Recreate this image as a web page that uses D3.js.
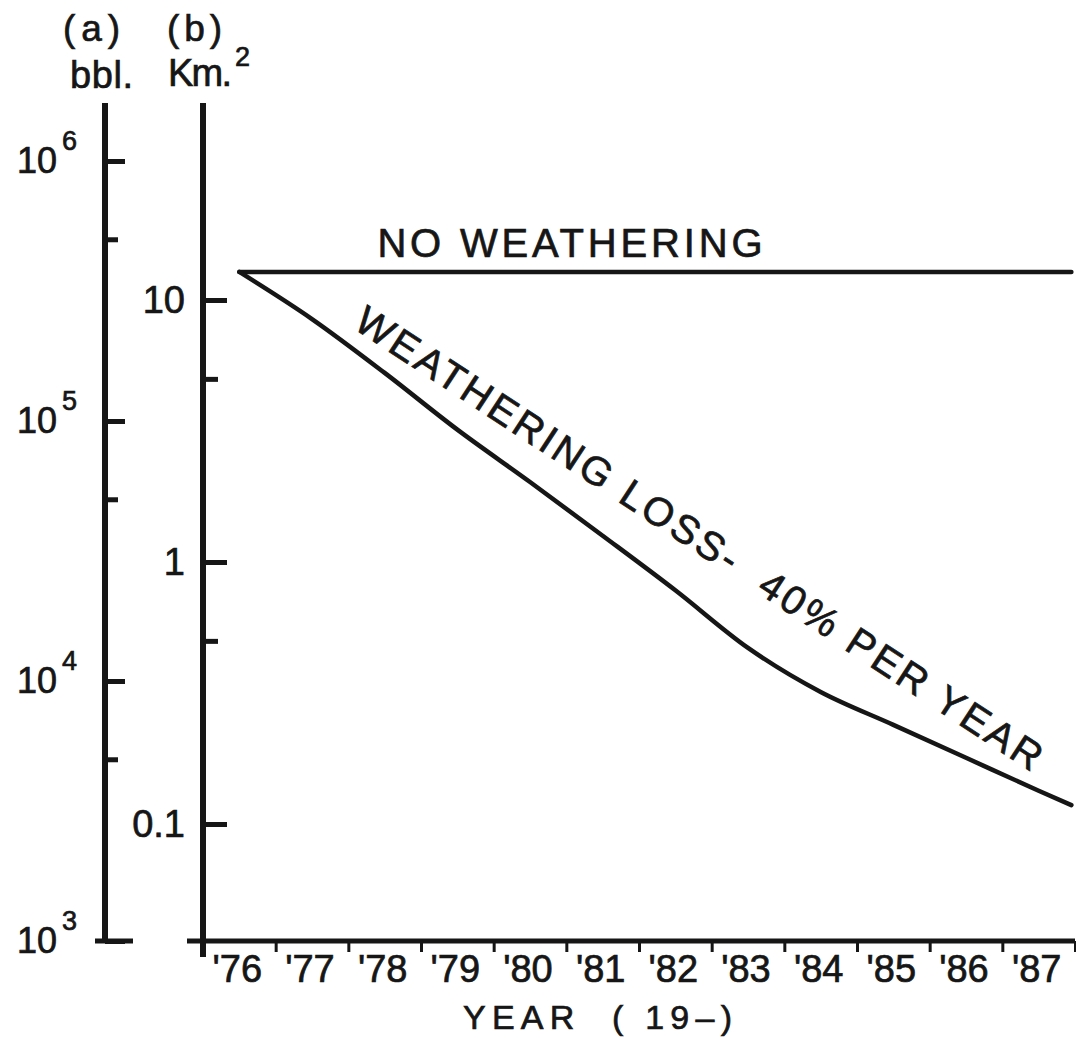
<!DOCTYPE html>
<html>
<head>
<meta charset="utf-8">
<script src="https://cdn.jsdelivr.net/npm/d3@7"></script>
<style>
  html, body { margin: 0; padding: 0; background: #fff; }
  svg { display: block; }
  text { font-family: "Liberation Sans", Arial, sans-serif; fill: #161616; stroke: #161616; stroke-width: 0.7px; }
</style>
</head>
<body>
<svg id="chart" width="1076" height="1038"></svg>
<script>
// ---------------- DATA ----------------
const years = [1976, 1977, 1978, 1979, 1980, 1981, 1982, 1983, 1984, 1985, 1986, 1987];
const yearLabels = ["'76", "'77", "'78", "'79", "'80", "'81", "'82", "'83", "'84", "'85", "'86", "'87"];
const yearBoundaries = [1976.5, 1977.5, 1978.5, 1979.5, 1980.5, 1981.5, 1982.5, 1983.5, 1984.5, 1985.5, 1986.5, 1987.5];

const noWeatheringYears = [1976, 1987.45];
const noWeatheringKm = [12.8, 12.8];

const weatheringYears = [1976, 1977, 1978, 1979, 1980, 1981, 1982, 1983, 1984, 1985, 1986, 1987, 1987.45];
const weatheringKm = [12.8, 8.46, 5.27, 3.2, 2.02, 1.26, 0.78, 0.47, 0.319, 0.239, 0.179, 0.134, 0.118];

const bblTicks = [1e3, 1e4, 1e5, 1e6];
const bblExponents = ["3", "4", "5", "6"];
const bblMinorTicks = [5e3, 5e4, 5e5];

const kmTicks = [0.1, 1, 10];
const kmTickLabels = ["0.1", "1", "10"];
const kmMinorTicks = [0.5, 5];

const noWeatheringLabel = "NO WEATHERING";
const noWeatheringLabelStart = [1977.9, 14.6];   // [year, km2]
const noWeatheringLabelEnd = [1983.2, 14.6];
const weatheringLabel = "WEATHERING LOSS-  40% PER YEAR";
const weatheringLabelStart = [1977.55, 7.85];
const weatheringLabelEnd = [1986.9, 0.158];

// ---------------- LAYOUT ----------------
const svg = d3.select("#chart");
const W = 1076, H = 1038;
svg.append("rect").attr("width", W).attr("height", H).attr("fill", "#fff");

const plotLeft = 203, plotRight = 1075, plotTop = 103, plotBottom = 941;
const axisAX = 105;
const ink = "#161616";

const x = d3.scaleLinear().domain([1975.5, 1987.5]).range([plotLeft, plotRight]);
const yKm = d3.scaleLog().domain([0.1, 10]).range([824, 300]);
const yBbl = d3.scaleLog().domain([1e3, 1e6]).range([plotBottom, 161]);

// ---------------- AXIS (a) bbl ----------------
const gA = svg.append("g");
gA.append("line").attr("x1", axisAX).attr("x2", axisAX)
  .attr("y1", plotTop).attr("y2", plotBottom)
  .attr("stroke", ink).attr("stroke-width", 6);

const axA = gA.append("g").attr("transform", `translate(${axisAX},0)`)
  .call(d3.axisRight(yBbl).tickValues(bblTicks).tickSize(20).tickFormat(""));
axA.select(".domain").remove();
axA.selectAll(".tick line").attr("stroke", ink).attr("stroke-width", 5);

const axAminor = gA.append("g").attr("transform", `translate(${axisAX},0)`)
  .call(d3.axisRight(yBbl).tickValues(bblMinorTicks).tickSize(13).tickFormat(""));
axAminor.select(".domain").remove();
axAminor.selectAll(".tick line").attr("stroke", ink).attr("stroke-width", 5);

// bottom cross bar at 10^3
gA.append("line").attr("x1", axisAX - 10).attr("x2", axisAX + 28)
  .attr("y1", yBbl(1e3)).attr("y2", yBbl(1e3))
  .attr("stroke", ink).attr("stroke-width", 5);

gA.selectAll("text.bblb").data(bblTicks).enter().append("text")
  .attr("class", "bblb")
  .attr("x", 57).attr("y", d => yBbl(d) + 12)
  .attr("text-anchor", "end")
  .style("font-size", "36px")
  .text("10");
gA.selectAll("text.bble").data(bblTicks).enter().append("text")
  .attr("class", "bble")
  .attr("x", 62).attr("y", d => yBbl(d) - 11)
  .style("font-size", "27px")
  .text((d, i) => bblExponents[i]);

// ---------------- AXIS (b) km2 ----------------
const gB = svg.append("g");
gB.append("line").attr("x1", plotLeft).attr("x2", plotLeft)
  .attr("y1", plotTop).attr("y2", plotBottom + 16)
  .attr("stroke", ink).attr("stroke-width", 6);

const axB = gB.append("g").attr("transform", `translate(${plotLeft},0)`)
  .call(d3.axisRight(yKm).tickValues(kmTicks).tickSize(24).tickFormat(""));
axB.select(".domain").remove();
axB.selectAll(".tick line").attr("stroke", ink).attr("stroke-width", 5);

const axBminor = gB.append("g").attr("transform", `translate(${plotLeft},0)`)
  .call(d3.axisRight(yKm).tickValues(kmMinorTicks).tickSize(15).tickFormat(""));
axBminor.select(".domain").remove();
axBminor.selectAll(".tick line").attr("stroke", ink).attr("stroke-width", 5);

gB.selectAll("text.km").data(kmTicks).enter().append("text")
  .attr("class", "km")
  .attr("x", 185).attr("y", d => yKm(d) + 13)
  .attr("text-anchor", "end")
  .style("font-size", "38px")
  .text((d, i) => kmTickLabels[i]);

// ---------------- X AXIS ----------------
const gX = svg.append("g");
gX.append("line").attr("x1", plotLeft - 16).attr("x2", plotRight)
  .attr("y1", plotBottom).attr("y2", plotBottom)
  .attr("stroke", ink).attr("stroke-width", 5);

const axX = gX.append("g").attr("transform", `translate(0,${plotBottom})`)
  .call(d3.axisBottom(x).tickValues(yearBoundaries).tickSize(11).tickFormat(""));
axX.select(".domain").remove();
axX.selectAll(".tick line").attr("stroke", ink).attr("stroke-width", 3);

gX.selectAll("text.yr").data(years).enter().append("text")
  .attr("class", "yr")
  .attr("x", d => x(d) - 2).attr("y", 982)
  .attr("text-anchor", "middle")
  .style("font-size", "38px")
  .text((d, i) => yearLabels[i]);

svg.append("text")
  .attr("x", 463).attr("y", 1029)
  .style("font-size", "34px")
  .style("white-space", "pre")
  .attr("textLength", 269).attr("lengthAdjust", "spacing")
  .text("YEAR  ( 19\u2013)");

// ---------------- HEADERS ----------------
svg.append("text").attr("x", 63).attr("y", 41).style("font-size", "37px")
  .attr("textLength", 57).attr("lengthAdjust", "spacing").text("(a)");
svg.append("text").attr("x", 70).attr("y", 88).style("font-size", "38px")
  .attr("textLength", 63).attr("lengthAdjust", "spacing").text("bbl.");
svg.append("text").attr("x", 167).attr("y", 41).style("font-size", "37px")
  .attr("textLength", 55).attr("lengthAdjust", "spacing").text("(b)");
svg.append("text").attr("x", 168).attr("y", 86).style("font-size", "38px")
  .attr("textLength", 64).attr("lengthAdjust", "spacing").text("Km.");
svg.append("text").attr("x", 235).attr("y", 66).style("font-size", "27px").text("2");

// ---------------- LINES ----------------
const line = d3.line().x(d => x(d[0])).y(d => yKm(d[1]));

svg.append("path")
  .datum(noWeatheringYears.map((yr, i) => [yr, noWeatheringKm[i]]))
  .attr("d", line)
  .attr("fill", "none").attr("stroke", ink).attr("stroke-width", 4.5)
  .attr("stroke-linecap", "round");

svg.append("path")
  .datum(weatheringYears.map((yr, i) => [yr, weatheringKm[i]]))
  .attr("d", line.curve(d3.curveMonotoneX))
  .attr("fill", "none").attr("stroke", ink).attr("stroke-width", 4.5)
  .attr("stroke-linecap", "round").attr("stroke-linejoin", "round");

// ---------------- LABELS ----------------
const nx0 = x(noWeatheringLabelStart[0]), ny0 = yKm(noWeatheringLabelStart[1]);
const nx1 = x(noWeatheringLabelEnd[0]);
svg.append("text")
  .attr("x", nx0).attr("y", ny0)
  .style("font-size", "40px")
  .attr("textLength", nx1 - nx0).attr("lengthAdjust", "spacing")
  .text(noWeatheringLabel);

const wx0 = x(weatheringLabelStart[0]), wy0 = yKm(weatheringLabelStart[1]);
const wx1 = x(weatheringLabelEnd[0]), wy1 = yKm(weatheringLabelEnd[1]);
const ang = Math.atan2(wy1 - wy0, wx1 - wx0) * 180 / Math.PI;
const len = Math.hypot(wx1 - wx0, wy1 - wy0);
svg.append("text")
  .attr("transform", `translate(${wx0},${wy0}) rotate(${ang})`)
  .style("font-size", "40px")
  .style("white-space", "pre")
  .attr("textLength", len).attr("lengthAdjust", "spacing")
  .text(weatheringLabel);
</script>
</body>
</html>
